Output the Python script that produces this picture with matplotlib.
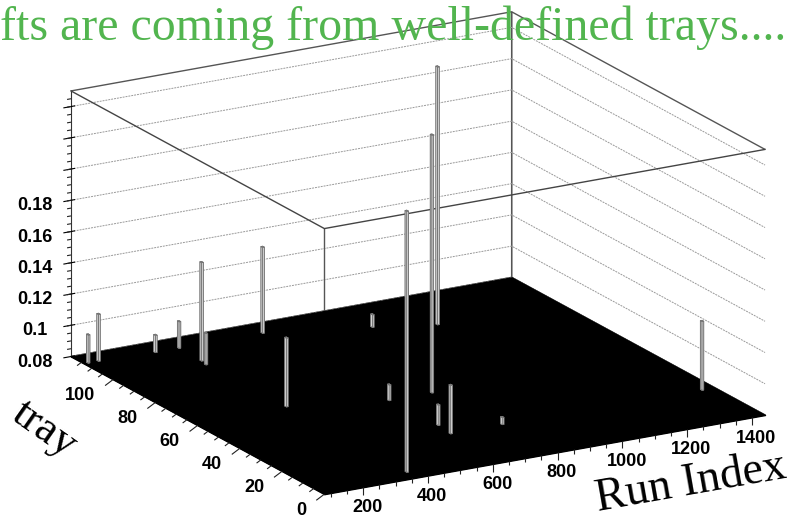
import matplotlib
matplotlib.use('Agg')
import matplotlib.pyplot as plt
from mpl_toolkits.mplot3d import proj3d
from mpl_toolkits.mplot3d.art3d import Poly3DCollection, Line3DCollection
import numpy as np

# hot bins: run index, tray number and fraction of hits
run_idx = [94, 126, 295, 368, 366, 360, 626, 367, 906, 367, 764, 1068, 632, 640, 633, 792, 1402]
tray_no = [114, 114, 113, 113, 102, 99, 113, 62, 104, 5, 54, 98, 54, 32, 25, 25, 24]
frac = [0.098, 0.110, 0.091, 0.097, 0.143, 0.100, 0.135, 0.124, 0.088, 0.247,
        0.245, 0.245, 0.090, 0.093, 0.111, 0.0845, 0.124]

run_range = (80, 1440)
tray_range = (0, 120)
z_range = (0.08, 0.25)

run_ticks = [200, 400, 600, 800, 1000, 1200, 1400]
tray_ticks = [0, 20, 40, 60, 80, 100]
z_ticks = [0.08, 0.10, 0.12, 0.14, 0.16, 0.18, 0.20, 0.22, 0.24]
z_ticklabels = ['0.08', '0.1', '0.12', '0.14', '0.16', '0.18', '', '', '']

title = 'fts are coming from well-defined trays....'

plt.rcParams['font.family'] = 'Liberation Sans'
plt.rcParams['font.weight'] = 'bold'

fig = plt.figure(figsize=(7.98, 5.2), dpi=100)
ax = fig.add_axes([0.015, 0.0, 1.0, 1.0], projection='3d', proj_type='ortho')
ax.view_init(elev=18.2, azim=-119.9)
ax.set_box_aspect((1, 1, 0.55), zoom=1.44)
ax.computed_zorder = False

x0, x1 = run_range
y0, y1 = tray_range
zb, zt = z_range

# front vertical edge sits under the floor
ax.plot([x0, x0], [y0, y0], [zb, zt], color='#555555', lw=1.0, clip_on=False, zorder=1)
floor = Poly3DCollection([[(x0, y0, zb), (x1, y0, zb), (x1, y1, zb), (x0, y1, zb)]],
                         facecolor='black', edgecolor='black', clip_on=False, zorder=1.5)
ax.add_collection3d(floor)

# front edges of the box top
ax.plot([x1, x0, x0], [y0, y0, y1], [zt] * 3, color='#444444', lw=1.0, clip_on=False, zorder=2)

# the bars
dx, dy = 5, 0.8
h = np.array(frac) - zb
ax.bar3d(np.array(run_idx) - dx / 2, np.array(tray_no) - dy / 2, zb,
         dx, dy, h, color='#e4e4e4', edgecolor='#707070', linewidth=0.6,
         shade=False, clip_on=False, zorder=3)

ax.set_xlim(*run_range)
ax.set_ylim(*tray_range)
ax.set_zlim(*z_range)

# walls white, floor black
ax.xaxis.set_pane_color((1, 1, 1, 1))
ax.yaxis.set_pane_color((1, 1, 1, 1))
ax.zaxis.set_pane_color((0, 0, 0, 1))
for a in (ax.xaxis, ax.yaxis, ax.zaxis):
    a.pane.set_edgecolor('#555555')
    a.line.set_color('#333333')

# only horizontal dashed grid on the back walls
ax.grid(True)
ax.xaxis._axinfo['grid'].update(linewidth=0, color=(1, 1, 1, 0))
ax.yaxis._axinfo['grid'].update(linewidth=0, color=(1, 1, 1, 0))
ax.zaxis._axinfo['grid'].update(linewidth=0.7, linestyle=(0, (2, 1)), color='#999999')

ax.set_xticks([])
ax.set_yticks([])
ax.set_zticks(z_ticks)
ax.set_zticklabels(z_ticklabels)
ax.tick_params(labelsize=13, pad=2)

# ROOT style tick marks on run and tray axes, z minor ticks
segs = []
for r in range(100, 1401, 50):
    ln = 0.005 if r in run_ticks else 0.0028
    segs.append([(r, y0, zb), (r, y0, zb - ln)])
for t in range(0, 116, 5):
    ln = 1.0 if t in tray_ticks else 0.55
    segs.append([(x0, t, zb), (x0 - 25 * ln, t, zb - 0.003 * ln)])
for z in np.arange(0.085, 0.25, 0.005):
    segs.append([(x0, y1, z), (x0 - 12, y1, z)])
ax.add_collection3d(Line3DCollection(segs, colors='#222222', linewidths=0.8,
                                     clip_on=False, zorder=2))

# axis numbers placed like ROOT does: project the 3D anchor, then put a figure text there
fig.canvas.draw()
to_fig = fig.transFigure.inverted()


def axis_number(x, y, z, s, ha):
    px, py, _ = proj3d.proj_transform(x, y, z, ax.M)
    fx, fy = to_fig.transform(ax.transData.transform((px, py)))
    fig.text(fx, fy, s, fontsize=13, ha=ha, va='center')


for r in run_ticks:
    axis_number(r, y0 - 2, zb - 0.0118, str(r), 'center')
for t in tray_ticks:
    axis_number(x0 - 55, t, zb - 0.0085, str(t), 'right')

fig.text(0.0, 0.99, title, color='#52b54f', fontsize=34.5, family='Liberation Serif',
         weight='normal', ha='left', va='top')
fig.text(0.056, 0.175, 'tray', fontsize=32, family='Liberation Serif', weight='normal',
         rotation=-35, ha='center', va='center')
fig.text(0.866, 0.07, 'Run Index', fontsize=33, family='Liberation Serif', weight='normal',
         rotation=10, ha='center', va='center')

fig.savefig('out.png', dpi=100)
